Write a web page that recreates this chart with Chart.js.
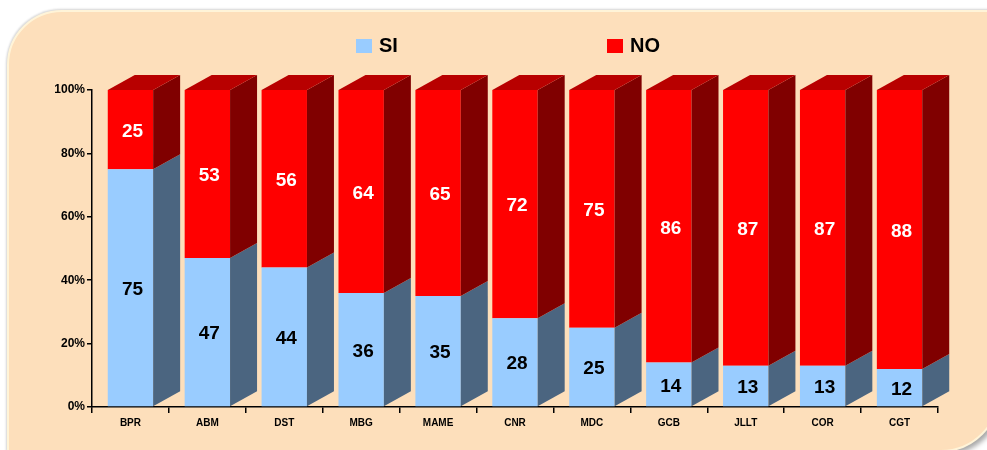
<!DOCTYPE html>
<html>
<head>
<meta charset="utf-8">
<script src="https://cdn.jsdelivr.net/npm/chart.js@4"></script>
<style>
    body { margin: 0; background: #fff; }
    #wrap { position: relative; width: 987px; height: 450px; overflow: hidden; }
    #panel {
        position: absolute; left: 7px; top: 10px; width: 993px; height: 442px;
        background: #FDDFBB; border-radius: 55px 0 59px 0;
        border: 2px solid #FFF4D8; box-sizing: border-box;
        box-shadow: -1px -1px 2px #d8d8d8, 3px 3px 5px #a8a8a8;
    }
    canvas { position: absolute; left: 0; top: 0; }
</style>
</head>
<body>
<div id="wrap">
    <div id="panel"></div>
    <canvas id="chart" width="987" height="450"></canvas>
</div>
<script>
// data
const categories = ['BPR', 'ABM', 'DST', 'MBG', 'MAME', 'CNR', 'MDC', 'GCB', 'JLLT', 'COR', 'CGT'];
const siValues = [75, 47, 44, 36, 35, 28, 25, 14, 13, 13, 12];
const noValues = [25, 53, 56, 64, 65, 72, 75, 86, 87, 87, 88];
const yTicks = [0, 20, 40, 60, 80, 100];

// front / side / top colours per series
const frontColors = ['#99CCFF', '#FF0000'];
const sideColors = ['#4B6580', '#800000'];
const topColor = '#B80000';
const labelColors = ['#000000', '#ffffff'];
const depthX = 27, depthY = 15;

// draws the fake 3D faces, value labels and the legend
const bar3d = {
    id: 'bar3d',
    afterDatasetsDraw(chart) {
        const ctx = chart.ctx;
        const last = chart.data.datasets.length - 1;
        ctx.save();
        chart.data.datasets.forEach((ds, d) => {
            chart.getDatasetMeta(d).data.forEach(bar => {
                const left = bar.x - bar.width / 2;
                const right = bar.x + bar.width / 2;
                const top = bar.y, bottom = bar.base;
                ctx.fillStyle = sideColors[d];
                ctx.beginPath();
                ctx.moveTo(right, bottom);
                ctx.lineTo(right + depthX, bottom - depthY);
                ctx.lineTo(right + depthX, top - depthY);
                ctx.lineTo(right, top);
                ctx.closePath();
                ctx.fill();
                if (d === last) {
                    ctx.fillStyle = topColor;
                    ctx.beginPath();
                    ctx.moveTo(left, top);
                    ctx.lineTo(right, top);
                    ctx.lineTo(right + depthX, top - depthY);
                    ctx.lineTo(left + depthX, top - depthY);
                    ctx.closePath();
                    ctx.fill();
                }
            });
        });
        // value labels
        ctx.font = 'bold 19px "Liberation Sans", Arial, sans-serif';
        ctx.textAlign = 'center';
        ctx.textBaseline = 'middle';
        chart.data.datasets.forEach((ds, d) => {
            chart.getDatasetMeta(d).data.forEach((bar, i) => {
                ctx.fillStyle = labelColors[d];
                ctx.fillText(ds.data[i], bar.x + 2, (bar.y + bar.base) / 2 + 2);
            });
        });
        // legend
        const legendPos = [356, 607];
        ctx.font = 'bold 20px "Liberation Sans", Arial, sans-serif';
        ctx.textAlign = 'left';
        chart.data.datasets.forEach((ds, d) => {
            ctx.fillStyle = frontColors[d];
            ctx.fillRect(legendPos[d], 39, 16, 14);
            ctx.fillStyle = '#000';
            ctx.fillText(ds.label, legendPos[d] + 23, 46);
        });
        ctx.restore();
    }
};

new Chart(document.getElementById('chart'), {
    type: 'bar',
    data: {
        labels: categories,
        datasets: [
            { label: 'SI', data: siValues, backgroundColor: frontColors[0] },
            { label: 'NO', data: noValues, backgroundColor: frontColors[1] }
        ]
    },
    options: {
        responsive: false,
        animation: false,
        events: [],
        layout: { padding: { top: 90, right: 49, left: 0, bottom: 0 } },
        datasets: { bar: { categoryPercentage: 1, barPercentage: 0.59, borderWidth: 0 } },
        plugins: { legend: { display: false }, tooltip: { enabled: false } },
        scales: {
            x: {
                stacked: true,
                afterFit: scale => { scale.height = 43; },
                border: { color: '#000', width: 1.5 },
                grid: { drawOnChartArea: false, color: '#000', tickLength: 6, lineWidth: 1.5 },
                ticks: { color: '#000', padding: 4, font: { family: '"Liberation Sans", Arial', size: 10, weight: 'bold' } }
            },
            y: {
                stacked: true,
                min: 0,
                max: 100,
                afterFit: scale => { scale.width = 92; },
                afterBuildTicks: scale => { scale.ticks = yTicks.map(v => ({ value: v })); },
                border: { color: '#000', width: 1.5 },
                grid: { drawOnChartArea: false, color: '#000', tickLength: 5, lineWidth: 1.5 },
                ticks: {
                    color: '#000', padding: 2,
                    font: { family: '"Liberation Sans", Arial', size: 12, weight: 'bold' },
                    callback: v => v + '%'
                }
            }
        }
    },
    plugins: [bar3d]
});
</script>
</body>
</html>
